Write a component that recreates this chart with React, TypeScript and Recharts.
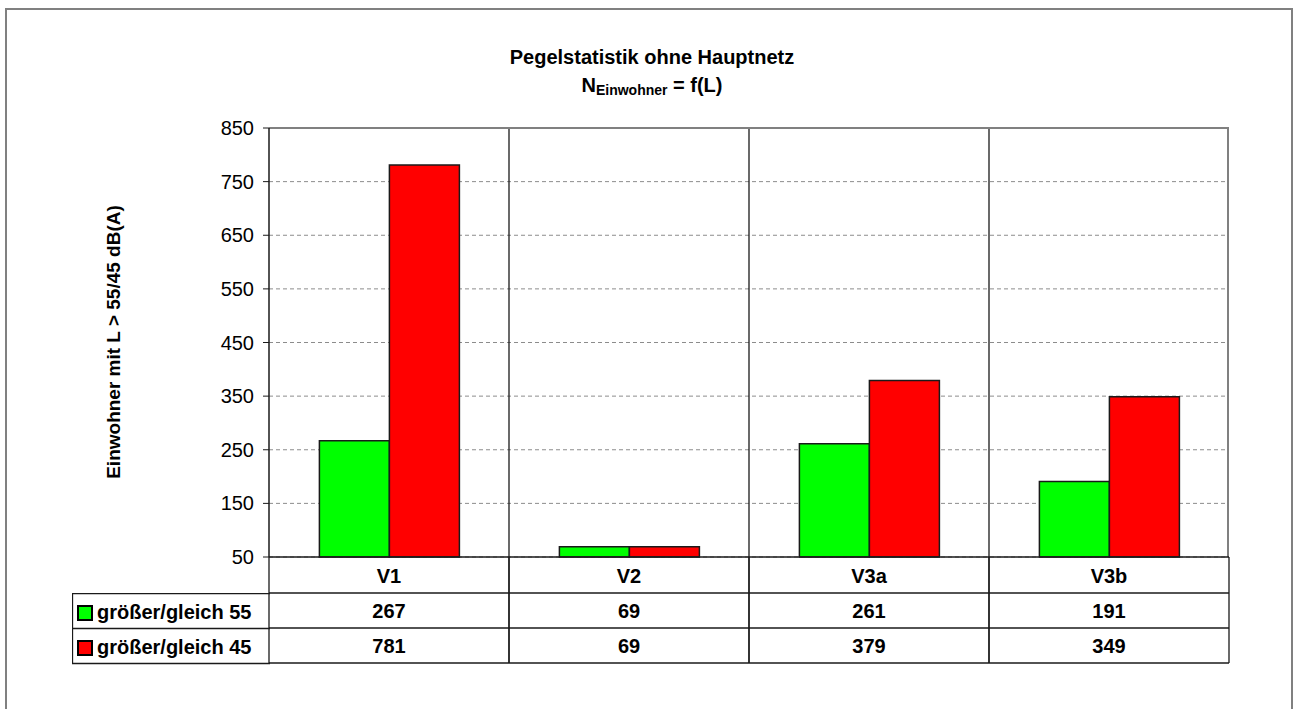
import React from "react";
import { Bar, BarChart, CartesianGrid, Label, Legend, ReferenceLine, XAxis, YAxis } from "recharts";

const categories = ["V1", "V2", "V3a", "V3b"];
const ge55 = [267, 69, 261, 191];
const ge45 = [781, 69, 379, 349];
const yTicks = [50, 150, 250, 350, 450, 550, 650, 750, 850];

const seriesNames = ["größer/gleich 55", "größer/gleich 45"];

const data = categories.map((c, i) => ({ name: c, ge55: ge55[i], ge45: ge45[i] }));

const FONT = "'Liberation Sans', Arial, sans-serif";
const W = 1300;
const H = 709;
const PLOT_LEFT = 269;
const PLOT_RIGHT = 71;
const CELL_W = (W - PLOT_LEFT - PLOT_RIGHT) / categories.length;
const LINE = "#1a1a1a";

function TableTick(props: any) {
  const { x, y, payload } = props;
  const idx = categories.indexOf(payload.value);
  const left = x - CELL_W / 2;
  const right = x + CELL_W / 2;
  const txt = { textAnchor: "middle" as const, dominantBaseline: "central" as const, fontWeight: 700, fontSize: 20, fill: "#000", fontFamily: FONT };
  return (
    <g>
      <line x1={left} x2={left} y1={y} y2={y + 106} stroke={LINE} strokeWidth={1.3} />
      <line x1={right} x2={right} y1={y} y2={y + 106} stroke={LINE} strokeWidth={1.3} />
      <line x1={left} x2={right} y1={y + 36} y2={y + 36} stroke={LINE} strokeWidth={1.3} />
      <line x1={left} x2={right} y1={y + 71} y2={y + 71} stroke={LINE} strokeWidth={1.3} />
      <line x1={left} x2={right} y1={y + 106} y2={y + 106} stroke={LINE} strokeWidth={1.3} />
      <text x={x} y={y + 19} {...txt}>{payload.value}</text>
      <text x={x} y={y + 54} {...txt}>{ge55[idx]}</text>
      <text x={x} y={y + 89} {...txt}>{ge45[idx]}</text>
    </g>
  );
}

function TableLegend(props: any) {
  const payload = [...(props.payload || [])].sort(
    (a: any, b: any) => seriesNames.indexOf(a.value) - seriesNames.indexOf(b.value)
  );
  return (
    <svg width={199} height={72} style={{ display: "block" }}>
      <line x1={0.5} x2={0.5} y1={0} y2={71} stroke={LINE} strokeWidth={1.3} />
      <line x1={0} x2={198} y1={0.5} y2={0.5} stroke={LINE} strokeWidth={1.3} />
      <line x1={0} x2={198} y1={35.5} y2={35.5} stroke={LINE} strokeWidth={1.3} />
      <line x1={0} x2={198} y1={70.5} y2={70.5} stroke={LINE} strokeWidth={1.3} />
      {payload.map((p: any, i: number) => (
        <g key={p.value}>
          <rect x={6} y={13 + i * 35} width={14} height={14} fill={p.color} stroke="#000" strokeWidth={2} />
          <text x={25} y={19 + i * 35} dominantBaseline="central" fontWeight={700} fontSize={20} fontFamily={FONT} fill="#000">
            {p.value}
          </text>
        </g>
      ))}
    </svg>
  );
}

export default function App() {
  return (
    <div style={{ position: "absolute", left: 0, top: 0, width: W, height: H, background: "#fff", fontFamily: FONT, overflow: "hidden" }}>
      <div style={{ position: "absolute", left: 5, top: 8, width: 1284, height: 720, border: "2px solid #808080" }} />
      <div style={{ position: "absolute", left: 452, width: 400, top: 43, textAlign: "center", fontWeight: 700, fontSize: 20, lineHeight: "28px" }}>
        <div>Pegelstatistik ohne Hauptnetz</div>
        <div>
          N<span style={{ fontSize: 14, position: "relative", top: 3 }}>Einwohner</span> = f(L)
        </div>
      </div>
      <div style={{ position: "absolute", left: 0, top: 0 }}>
        <BarChart width={W} height={H} data={data} margin={{ top: 128, right: PLOT_RIGHT, bottom: 46, left: 0 }} barCategoryGap="21%" barGap={0}>
          <CartesianGrid vertical={false} stroke="#8c8c8c" strokeDasharray="4 3" />
          <CartesianGrid
            horizontal={false}
            stroke={LINE}
            strokeWidth={1.3}
            verticalCoordinatesGenerator={({ offset }: any) =>
              categories.slice(1).map((_, i) => offset.left + ((i + 1) * offset.width) / categories.length)
            }
          />
          <CartesianGrid
            horizontal={false}
            stroke="#808080"
            strokeWidth={2}
            verticalCoordinatesGenerator={({ offset }: any) => [offset.left + offset.width - 1]}
          />
          <XAxis
            dataKey="name"
            height={106}
            tickSize={0}
            tickMargin={0}
            tickLine={false}
            axisLine={{ stroke: LINE, strokeWidth: 1.5 }}
            tick={<TableTick />}
            interval={0}
          />
          <YAxis
            width={PLOT_LEFT}
            domain={[50, 850]}
            ticks={yTicks}
            interval={0}
            tickSize={6}
            tickMargin={9}
            tick={{ fill: "#000", fontSize: 20, fontFamily: FONT }}
            tickLine={{ stroke: LINE }}
            axisLine={{ stroke: LINE, strokeWidth: 1.5 }}
          >
            <Label
              content={() => (
                <text
                  x={113}
                  y={342}
                  transform="rotate(-90 113 342)"
                  textAnchor="middle"
                  dominantBaseline="central"
                  fontWeight={700}
                  fontSize={19}
                  fontFamily={FONT}
                  fill="#000"
                >
                  Einwohner mit L &gt; 55/45 dB(A)
                </text>
              )}
            />
          </YAxis>
          <ReferenceLine y={850} stroke="#808080" strokeWidth={2} />
          <Legend
            layout="horizontal"
            verticalAlign="middle"
            align="center"
            content={<TableLegend />}
            wrapperStyle={{ position: "absolute", left: 72, top: 593, width: 199, height: 72 }}
          />
          <Bar dataKey="ge55" name={seriesNames[0]} fill="#00ff00" stroke="#1a1a1a" strokeWidth={1.5} isAnimationActive={false} />
          <Bar dataKey="ge45" name={seriesNames[1]} fill="#ff0000" stroke="#1a1a1a" strokeWidth={1.5} isAnimationActive={false} />
        </BarChart>
      </div>
    </div>
  );
}
